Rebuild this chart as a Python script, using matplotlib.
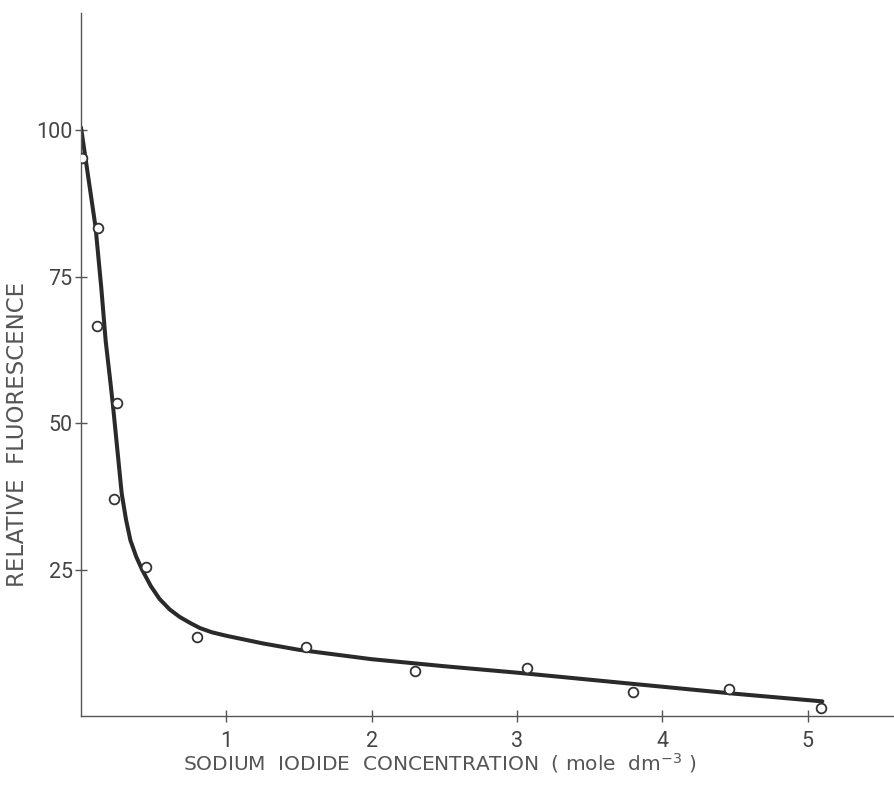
import matplotlib.pyplot as plt

plt.rcParams['font.family'] = ['Roboto', 'DejaVu Sans']

# measured points (NaI concentration, relative fluorescence)
conc = [0.01, 0.12, 0.11, 0.25, 0.23, 0.45, 0.80, 1.55, 2.30, 3.07, 3.80, 4.46, 5.09]
fluor = [95.2, 83.3, 66.6, 53.4, 37.0, 25.4, 13.5, 11.8, 7.7, 8.2, 4.1, 4.6, 1.4]

# hand-drawn fitted curve
curve_x = [0.0, 0.05, 0.10, 0.14, 0.17, 0.20, 0.22, 0.25, 0.28, 0.31, 0.34, 0.38,
           0.42, 0.48, 0.54, 0.61, 0.68, 0.75, 0.82, 0.90, 1.0, 1.25, 1.5, 2.0,
           2.5, 3.0, 3.5, 4.0, 4.5, 5.1]
curve_y = [100.5, 92, 83.5, 73, 64, 57.5, 53, 45.5, 38, 33.5, 30, 27.2,
           25, 22.2, 20, 18.2, 16.9, 15.9, 15.0, 14.3, 13.7, 12.4, 11.3, 9.7,
           8.5, 7.4, 6.2, 5.0, 3.8, 2.5]

xticks = [1, 2, 3, 4, 5]
yticks = [25, 50, 75, 100]

fig = plt.figure(figsize=(8.95, 7.87), dpi=100)
ax = fig.add_axes([0.0905, 0.0902, 0.9095, 0.893])

ax.plot(curve_x, curve_y, color='#2a2a2a', lw=2.9, solid_capstyle='round',
        solid_joinstyle='round', zorder=2)
ax.plot(conc, fluor, 'o', ms=7, mfc='white', mec='#333333', mew=1.3, zorder=3)

ax.set_xlim(0, 5.6)
ax.set_ylim(0, 120)
for s in ['top', 'right']:
    ax.spines[s].set_visible(False)
for s in ['left', 'bottom']:
    ax.spines[s].set_color('#555555')
    ax.spines[s].set_linewidth(1.0)

ax.set_xticks(xticks)
ax.set_yticks(yticks)
ax.set_yticklabels([str(v) for v in yticks])
ax.tick_params(direction='inout', length=8, width=1, color='#555555',
               labelsize=15.5, labelcolor='#444444')
ax.tick_params(axis='x', pad=7)
ax.tick_params(axis='y', pad=2)

ax.set_xlabel('SODIUM  IODIDE  CONCENTRATION  ( mole  dm$^{-3}$ )',
              fontsize=14.5, color='#555555', family='DejaVu Sans')
ax.xaxis.set_label_coords(0.44, -0.05)
ax.set_ylabel('RELATIVE  FLUORESCENCE', fontsize=16.5, color='#555555',
              family='DejaVu Sans')
ax.yaxis.set_label_coords(-0.064, 0.40)

fig.savefig('out.png', dpi=100)
